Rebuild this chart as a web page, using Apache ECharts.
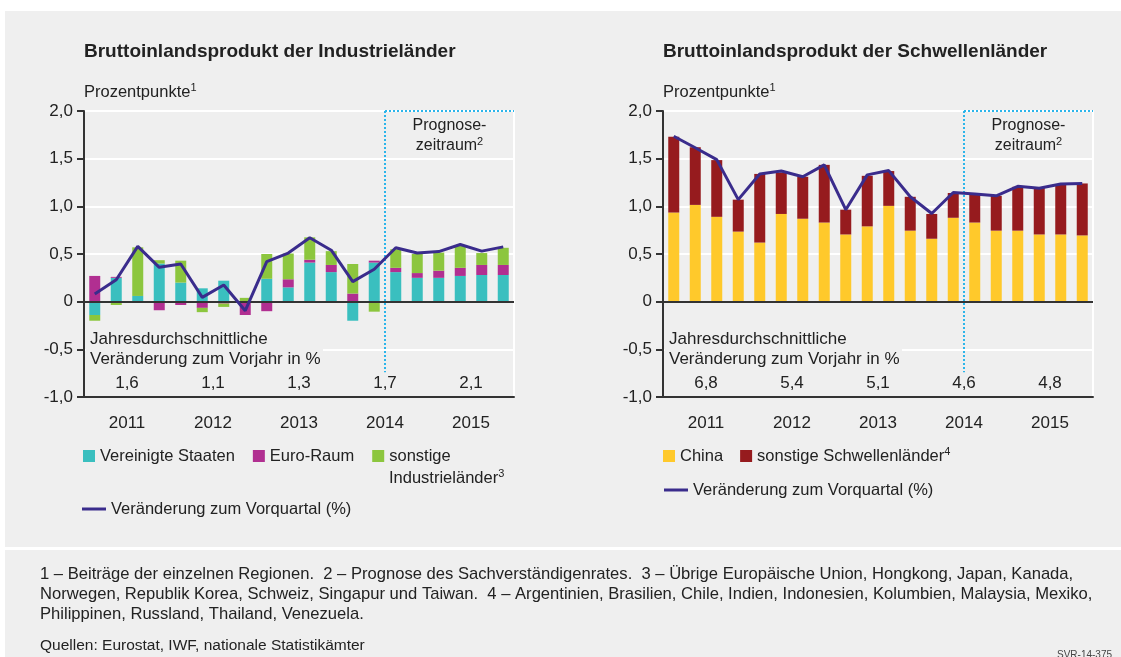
<!DOCTYPE html>
<html>
<head>
<meta charset="utf-8">
<script src="https://cdn.jsdelivr.net/npm/echarts@6/dist/echarts.min.js"></script>
<style>
  html, body { margin: 0; padding: 0; background: #fff; }
  #chart { width: 1121px; height: 657px; }
</style>
</head>
<body>
<div id="chart"></div>
<script>
const quarters = [
  '2011 Q1', '2011 Q2', '2011 Q3', '2011 Q4',
  '2012 Q1', '2012 Q2', '2012 Q3', '2012 Q4',
  '2013 Q1', '2013 Q2', '2013 Q3', '2013 Q4',
  '2014 Q1', '2014 Q2', '2014 Q3', '2014 Q4',
  '2015 Q1', '2015 Q2', '2015 Q3', '2015 Q4'
];
const years = ['2011', '2012', '2013', '2014', '2015'];
const yearlyIndustrial = ['1,6', '1,1', '1,3', '1,7', '2,1'];
const yearlyEmerging = ['6,8', '5,4', '5,1', '4,6', '4,8'];

// Industrieländer, Beiträge in Prozentpunkten
const usa = [-0.14, 0.25, 0.06, 0.40, 0.20, 0.14, 0.22, 0, 0.24, 0.15, 0.41, 0.31, -0.20, 0.41, 0.31, 0.25, 0.25, 0.27, 0.28, 0.28];
const euroArea = [0.27, 0.01, -0.01, -0.09, -0.035, -0.065, -0.02, -0.14, -0.10, 0.085, 0.03, 0.075, 0.085, 0.02, 0.045, 0.05, 0.075, 0.085, 0.105, 0.105];
const otherIndustrial = [-0.06, -0.035, 0.51, 0.035, 0.23, -0.045, -0.035, 0.04, 0.26, 0.27, 0.235, 0.145, 0.31, -0.105, 0.195, 0.2, 0.19, 0.23, 0.125, 0.18];
const industrialQoQ = [0.08, 0.23, 0.58, 0.36, 0.395, 0.045, 0.175, -0.095, 0.42, 0.51, 0.67, 0.54, 0.21, 0.34, 0.565, 0.51, 0.525, 0.60, 0.53, 0.575];

// Schwellenländer
const china = [0.935, 1.015, 0.89, 0.735, 0.62, 0.92, 0.87, 0.83, 0.705, 0.79, 1.005, 0.745, 0.66, 0.88, 0.83, 0.745, 0.745, 0.705, 0.705, 0.695];
const otherEmerging = [0.795, 0.605, 0.595, 0.335, 0.72, 0.435, 0.44, 0.605, 0.26, 0.53, 0.365, 0.355, 0.26, 0.26, 0.29, 0.365, 0.46, 0.49, 0.52, 0.545];
const emergingQoQ = [1.735, 1.615, 1.49, 1.07, 1.34, 1.37, 1.31, 1.435, 0.965, 1.33, 1.375, 1.10, 0.925, 1.145, 1.13, 1.11, 1.21, 1.19, 1.235, 1.24];

const forecastStart = 14; // Grenze nach 2014 Q2
const forecastLineEnd = -0.74;

const FONT = '"Liberation Sans", Arial, sans-serif';
const TXT = '#222';
const BG = '#efefef';
const AXIS = '#333';
const LINE_NAME = 'Veränderung zum Vorquartal (%)';
const SUP = { s: { fontSize: 11, verticalAlign: 'top', color: TXT, fontFamily: FONT } };

const fmtY = v => (v === 0 ? '0' : v.toFixed(1).replace('.', ','));

function axesFor(g, annual) {
  return [
    {
      type: 'category', gridIndex: g, position: 'bottom', data: years, boundaryGap: true,
      axisLine: { onZero: false, lineStyle: { color: AXIS, width: 2 } },
      axisTick: { length: 15, interval: 0, lineStyle: { color: AXIS, width: 2 } },
      axisLabel: { fontSize: 17, color: TXT, margin: 18, fontFamily: FONT }
    },
    {
      type: 'category', gridIndex: g, position: 'bottom', data: quarters,
      axisLine: { show: false, onZero: false },
      axisTick: { length: 7, interval: 0, lineStyle: { color: AXIS, width: 2 } },
      axisLabel: { show: false }
    },
    {
      type: 'category', gridIndex: g, position: 'bottom', data: annual,
      axisLine: { show: false, onZero: false },
      axisTick: { show: false },
      axisLabel: { inside: true, margin: 5, fontSize: 17, color: TXT, fontFamily: FONT }
    },
    {
      type: 'value', gridIndex: g, min: 0, max: 20, show: false,
      axisLine: { onZero: false }, splitLine: { show: false }
    }
  ];
}

function yAxesFor(g) {
  return [
    {
      type: 'value', gridIndex: g, position: 'left', min: -1, max: 2, interval: 0.5,
      name: 'Prozentpunkte{s|1}', nameLocation: 'end', nameGap: 9,
      nameTextStyle: { align: 'left', fontSize: 16.5, lineHeight: 20, color: TXT, fontFamily: FONT, rich: SUP },
      axisLine: { show: true, onZero: false, lineStyle: { color: AXIS, width: 2 } },
      axisTick: { show: true, length: 7, lineStyle: { color: AXIS, width: 2 } },
      axisLabel: { formatter: fmtY, fontSize: 17, color: TXT, margin: 11, fontFamily: FONT },
      splitLine: { show: true, lineStyle: { color: '#fff', width: 2 } }
    },
    {
      type: 'value', gridIndex: g, position: 'right', min: -1, max: 2, interval: 0.5,
      axisLine: { show: true, onZero: false, lineStyle: { color: '#fff', width: 2 } },
      axisTick: { show: false }, axisLabel: { show: false }, splitLine: { show: false }
    }
  ];
}

const zeroLine = {
  silent: true, symbol: 'none', label: { show: false },
  lineStyle: { color: AXIS, width: 2, type: 'solid' },
  data: [{ yAxis: 0 }]
};

function forecastSeries(g) {
  return {
    type: 'line', name: 'forecast' + g, xAxisIndex: 4 * g + 3, yAxisIndex: 2 * g, data: [],
    markLine: {
      silent: true, symbol: 'none', animation: false,
      lineStyle: { color: '#2cb5ea', width: 2, type: [2, 2] },
      data: [
        [{ coord: [forecastStart, 2], label: { show: false } }, { coord: [forecastStart, forecastLineEnd] }],
        [{
          coord: [forecastStart, 2],
          label: {
            show: true, position: 'insideMiddleBottom', distance: 5,
            formatter: 'Prognose-\nzeitraum{s|2}', fontSize: 16, lineHeight: 20,
            color: TXT, fontFamily: FONT, rich: SUP
          }
        }, { coord: [20, 2] }]
      ]
    }
  };
}

function qoqLine(g, data) {
  return {
    type: 'line', name: LINE_NAME, xAxisIndex: 4 * g + 1, yAxisIndex: 2 * g, data,
    symbol: 'none', z: 5, color: '#3a2c8c',
    lineStyle: { color: '#3a2c8c', width: 3 }
  };
}

const bar = (g, name, data, color, stack) => ({
  type: 'bar', name, xAxisIndex: 4 * g + 1, yAxisIndex: 2 * g, data, stack,
  barWidth: 11, color, itemStyle: { color }
});

const legendText = { fontSize: 16.5, lineHeight: 20, color: TXT, fontFamily: FONT, rich: SUP };
const legendNames = {
  'sonstige Industrieländer': 'sonstige',
  'sonstige Schwellenländer': 'sonstige Schwellenländer{s|4}'
};
const legendFmt = name => legendNames[name] || name;

const option = {
  animation: false,
  textStyle: { fontFamily: FONT },
  title: [
    { text: 'Bruttoinlandsprodukt der Industrieländer', left: 84, top: 42, padding: 0,
      textStyle: { fontSize: 19, fontWeight: 'bold', color: TXT, fontFamily: FONT } },
    { text: 'Bruttoinlandsprodukt der Schwellenländer', left: 663, top: 42, padding: 0,
      textStyle: { fontSize: 19, fontWeight: 'bold', color: TXT, fontFamily: FONT } }
  ],
  grid: [
    { left: 84, top: 111, width: 430, height: 286 },
    { left: 663, top: 111, width: 430, height: 286 }
  ],
  xAxis: [...axesFor(0, yearlyIndustrial), ...axesFor(1, yearlyEmerging)],
  yAxis: [...yAxesFor(0), ...yAxesFor(1)],
  legend: [
    { data: ['Vereinigte Staaten', 'Euro-Raum', 'sonstige Industrieländer'], left: 83, top: 446,
      padding: 0, itemGap: 18, icon: 'rect', itemWidth: 12, itemHeight: 12,
      formatter: legendFmt, textStyle: legendText },
    { data: [LINE_NAME], left: 82, top: 499, padding: 0, icon: 'rect', itemWidth: 24, itemHeight: 3,
      textStyle: legendText },
    { data: ['China', 'sonstige Schwellenländer'], left: 663, top: 446, padding: 0, itemGap: 17,
      icon: 'rect', itemWidth: 12, itemHeight: 12, formatter: legendFmt, textStyle: legendText },
    { data: [LINE_NAME], left: 664, top: 480, padding: 0, icon: 'rect', itemWidth: 24, itemHeight: 3,
      textStyle: legendText }
  ],
  graphic: [
    { type: 'rect', z: -10, shape: { x: 5, y: 11, width: 1116, height: 536 }, style: { fill: BG } },
    { type: 'rect', z: -10, shape: { x: 5, y: 550, width: 1116, height: 107 }, style: { fill: BG } },
    // Abdeckung der Gitterlinie hinter der Beschriftung
    { type: 'rect', z: 10, shape: { x: 86, y: 346, width: 237, height: 8 }, style: { fill: BG } },
    { type: 'rect', z: 10, shape: { x: 665, y: 346, width: 237, height: 8 }, style: { fill: BG } },
    { type: 'text', z: 11, x: 90, y: 329, style: {
        text: 'Jahresdurchschnittliche\nVeränderung zum Vorjahr in %',
        fontSize: 17, lineHeight: 20, fill: TXT, fontFamily: FONT } },
    { type: 'text', z: 11, x: 669, y: 329, style: {
        text: 'Jahresdurchschnittliche\nVeränderung zum Vorjahr in %',
        fontSize: 17, lineHeight: 20, fill: TXT, fontFamily: FONT } },
    // zweite Zeile des Legendeneintrags
    { type: 'text', z: 11, x: 389, y: 468, style: {
        text: 'Industrieländer{s|3}', fontSize: 16.5, lineHeight: 20, fill: TXT, fontFamily: FONT, rich: SUP } },
    { type: 'text', z: 11, x: 40, y: 564, style: {
        text: '1 – Beiträge der einzelnen Regionen.  2 – Prognose des Sachverständigenrates.  3 – Übrige Europäische Union, Hongkong, Japan, Kanada,\n' +
              'Norwegen, Republik Korea, Schweiz, Singapur und Taiwan.  4 – Argentinien, Brasilien, Chile, Indien, Indonesien, Kolumbien, Malaysia, Mexiko,\n' +
              'Philippinen, Russland, Thailand, Venezuela.',
        fontSize: 16.6, lineHeight: 20, fill: TXT, fontFamily: FONT } },
    { type: 'text', z: 11, x: 40, y: 636, style: {
        text: 'Quellen: Eurostat, IWF, nationale Statistikämter',
        fontSize: 15.5, lineHeight: 20, fill: TXT, fontFamily: FONT } },
    { type: 'text', z: 11, x: 1057, y: 650, style: {
        text: 'SVR-14-375', fontSize: 10, fill: '#444', fontFamily: FONT } }
  ],
  series: [
    { ...bar(0, 'Vereinigte Staaten', usa, '#3abfbf', 'ind'), markLine: zeroLine },
    bar(0, 'Euro-Raum', euroArea, '#b12f91', 'ind'),
    bar(0, 'sonstige Industrieländer', otherIndustrial, '#8cc63e', 'ind'),
    qoqLine(0, industrialQoQ),
    forecastSeries(0),
    { ...bar(1, 'China', china, '#ffc92b', 'em'), markLine: zeroLine },
    bar(1, 'sonstige Schwellenländer', otherEmerging, '#961b1e', 'em'),
    qoqLine(1, emergingQoQ),
    forecastSeries(1)
  ]
};

const chart = echarts.init(document.getElementById('chart'));
chart.setOption(option);
</script>
</body>
</html>
